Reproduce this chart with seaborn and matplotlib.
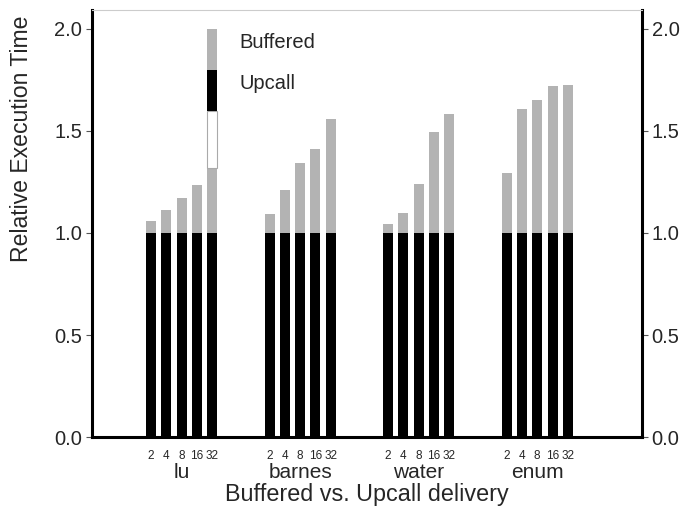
import numpy as np
import pandas as pd
import matplotlib
matplotlib.use("Agg")
import matplotlib.pyplot as plt
import seaborn as sns

# data
apps = ["lu", "barnes", "water", "enum"]
procs = ["2", "4", "8", "16", "32"]
upcall = [1.0, 1.0, 1.0, 1.0, 1.0]
buffered_lu = [1.06, 1.113, 1.17, 1.235, 1.32]
buffered_barnes = [1.093, 1.21, 1.343, 1.412, 1.56]
buffered_water = [1.045, 1.10, 1.24, 1.495, 1.585]
buffered_enum = [1.296, 1.608, 1.654, 1.722, 1.725]

buffered = [buffered_lu, buffered_barnes, buffered_water, buffered_enum]
group_step = 7.75

rows = []
for g, app in enumerate(apps):
    for i, p in enumerate(procs):
        rows.append({"app": app, "procs": p, "pos": g * group_step + i,
                     "buffered": buffered[g][i], "upcall": upcall[i]})
df = pd.DataFrame(rows)

sns.set_theme(style="white")
plt.rcParams["font.family"] = ["Liberation Sans", "DejaVu Sans"]

gray = "#b3b3b3"
fig = plt.figure(figsize=(6.83, 5.14), dpi=100)
ax = fig.add_axes([0.1347, 0.1498, 0.9400 - 0.1347, 0.9805 - 0.1498])

sns.barplot(data=df, x="pos", y="buffered", native_scale=True, orient="x",
            color=gray, saturation=1, width=0.65, errorbar=None,
            linewidth=0, ax=ax)
sns.barplot(data=df, x="pos", y="upcall", native_scale=True, orient="x",
            color="black", saturation=1, width=0.65, errorbar=None,
            linewidth=0, ax=ax)

# legend swatches stacked above the last lu bar
lx = df["pos"].iloc[4]
top = df["buffered"].iloc[4]
ax.bar(lx, 1.6 - top, bottom=top, width=0.65, color="white",
       edgecolor="#aaaaaa", linewidth=0.8)
ax.bar(lx, 0.2, bottom=1.6, width=0.65, color="black", linewidth=0)
ax.bar(lx, 0.2, bottom=1.8, width=0.65, color=gray, linewidth=0)
ax.text(5.8, 1.907, "Buffered", fontsize=14.5, va="baseline", ha="left")
ax.text(5.8, 1.706, "Upcall", fontsize=14.5, va="baseline", ha="left")

ax.set_xlim(-3.86, 32.1)
ax.set_ylim(0, 2.093)
ax.set_yticks([0, 0.5, 1.0, 1.5, 2.0])
ax.set_yticklabels(["0.0", "0.5", "1.0", "1.5", "2.0"], fontsize=14.5)

ax.xaxis.remove_overlapping_locs = False
ax.set_xticks(df["pos"], labels=df["procs"], minor=True, fontsize=8.5)
centers = [g * group_step + 2 for g in range(len(apps))]
ax.set_xticks(centers, labels=apps, fontsize=15)
ax.tick_params(axis="x", which="minor", length=0, pad=9)
ax.tick_params(axis="x", which="major", length=0, pad=19)
ax.tick_params(axis="y", which="major", left=True, right=True,
               labelleft=True, labelright=True, length=4, width=0.8,
               direction="out", color="#555555", pad=3)

ax.set_xlabel("Buffered vs. Upcall delivery", fontsize=16.8)
ax.xaxis.set_label_coords(0.5, -0.108)
ax.set_ylabel("Relative Execution Time", fontsize=16.6)
ax.yaxis.set_label_coords(-0.107, 0.698)

for side in ["left", "right", "bottom"]:
    ax.spines[side].set_color("black")
    ax.spines[side].set_linewidth(2.2)
ax.spines["top"].set_color("#cccccc")
ax.spines["top"].set_linewidth(0.8)

fig.savefig("out.png", dpi=100)
